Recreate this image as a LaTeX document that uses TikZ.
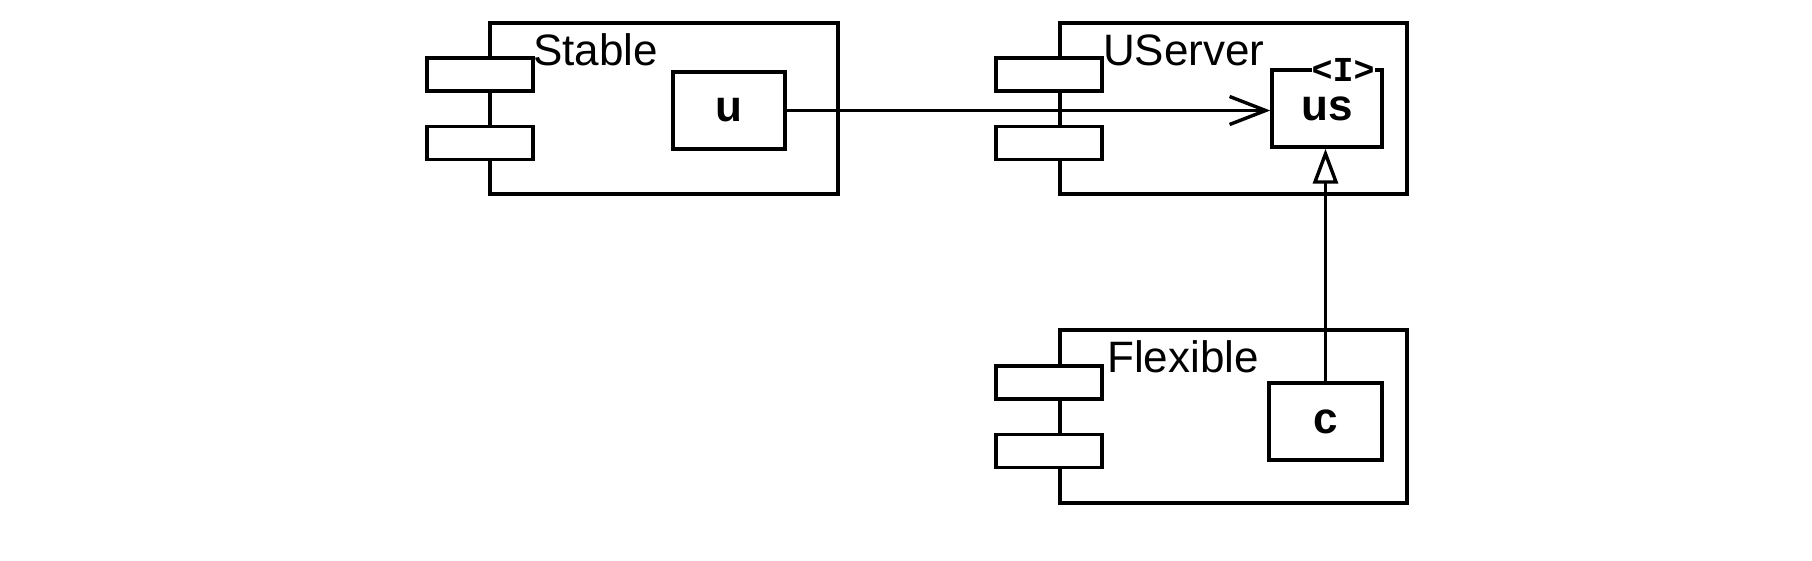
\documentclass[tikz,border=0pt]{standalone}
\usepackage{fontspec}
\setmainfont{Liberation Sans}
\newfontfamily\monofnt{Liberation Mono}
\usetikzlibrary{arrows.meta}
\tikzset{
  comp/.style={draw, rectangle, line width=3.4pt, inner sep=0pt},
  port/.style={draw, fill=white, rectangle, line width=3.4pt, inner sep=0pt, minimum width=106pt, minimum height=33pt},
  part/.style={draw, fill=white, rectangle, line width=3.4pt, inner sep=0pt, minimum height=77pt, font=\fontsize{44}{48}\selectfont\bfseries},
  title/.style={anchor=base west, inner sep=0pt, font=\fontsize{44}{48}\selectfont},
  conn/.style={line width=3.4pt}
}
\begin{document}
\begin{tikzpicture}[x=1pt,y=-1pt]
\useasboundingbox (0,0) rectangle (1812,560);
% Stable
\node[comp, minimum width=348pt, minimum height=171pt] (stable) at (664,108.5) {};
\node[port] (sp1) at (480,74.5) {};
\node[port] (sp2) at (480,143) {};
\node[title] (stablet) at (533,65) {Stable};
\node[part, minimum width=112pt] (u) at (729,110.5) {u};
% UServer
\node[comp, minimum width=347pt, minimum height=171pt] (userver) at (1233.5,108.5) {};
\node[port] (up1) at (1049,74.5) {};
\node[port] (up2) at (1049,143) {};
\node[title] (usert) at (1103,65) {UServer};
\node[part, minimum width=110pt] (us) at (1327,108.5) {us};
\node[fill=white, inner sep=0pt, font=\monofnt\fontsize{35}{35}\selectfont\bfseries] (ilab) at (1343,70) {<I>};
% Flexible
\node[comp, minimum width=347pt, minimum height=173pt] (flex) at (1233.5,416.5) {};
\node[port] (fp1) at (1049,382.5) {};
\node[port] (fp2) at (1049,451) {};
\node[title] (flext) at (1107,372) {Flexible};
\node[part, minimum width=113pt] (c) at (1325.5,421.5) {c};
% connectors
\draw[conn, -{Straight Barb[length=36pt, width=28pt, line width=3.4pt]}] (u.east) -- (u.east -| us.west);
\draw[conn, -{Triangle[open, length=35pt, width=25pt, line width=3.4pt, fill=white]}] (c.north) -- (c.north |- us.south);
\end{tikzpicture}
\end{document}
